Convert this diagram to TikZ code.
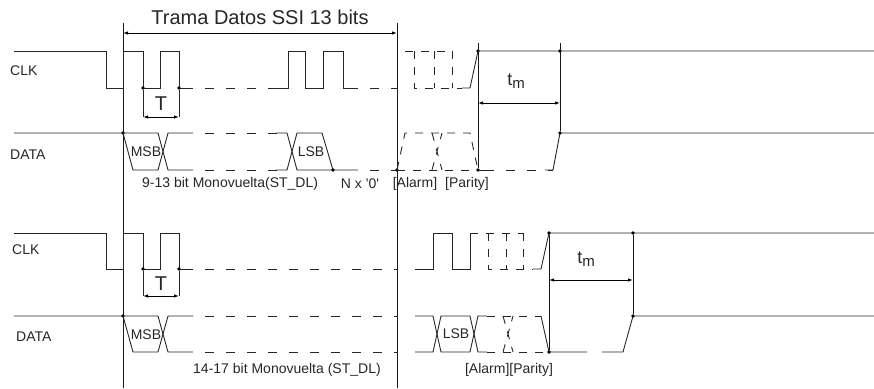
\documentclass[tikz,border=0pt]{standalone}
\usepackage{fontspec}
\setmainfont{Liberation Sans}
\usetikzlibrary{arrows.meta}
\begin{document}
\begin{tikzpicture}[x=1pt, y=-1pt,
   wave/.style={line width=0.9pt, line join=miter, draw=black!85},
   gapline/.style={wave, dash pattern=on 9pt off 12pt, dash phase=9pt},
   optbit/.style={wave, dash pattern=on 8pt off 8pt},
   frame/.style={line width=1pt, draw=black!90},
   dimline/.style={line width=0.9pt, {Latex[length=5pt,width=3.5pt]}-{Latex[length=5pt,width=3.5pt]}},
   dot/.style={circle, fill, inner sep=1.4pt},
   lbl/.style={font=\fontsize{14}{16}\selectfont, text=black!85, inner sep=0pt},
   big/.style={font=\fontsize{20}{24}\selectfont, text=black!85, inner sep=0pt}]

\useasboundingbox (0,0) rectangle (874,388);

% frame of the 13 bit word
\node[big] (title) at (260,17) {Trama Datos SSI 13 bits};
\draw[frame] (123,23) -- (123,388);
\draw[frame] (397,23) -- (397,388);
\coordinate (fa) at (123,33);
\coordinate (fb) at (397,33);
\draw[dimline] (fa) -- (fb);

% ---------- upper diagram ----------
\node[lbl, anchor=west] (clkA) at (10,71) {CLK};
\node[lbl, anchor=west] (dataA) at (10,155) {DATA};

% clock
\draw[wave] (14,51) -- (106,51) -- (106,88) -- (123,88) -- (123,51) -- (143,51) -- (143,88)
   -- (160,88) -- (160,51) -- (179,51) -- (179,88) -- (193,88);
\draw[gapline] (193,88) -- (282,88);
\draw[wave] (276,88) -- (288,88) -- (288,51) -- (305,51) -- (305,88) -- (323,88) -- (323,51)
   -- (343,51) -- (343,88) -- (358,88);
\draw[gapline] (358,88) -- (397,88);
\draw[optbit] (405,51) -- (452,51);
\draw[optbit] (414,51) -- (414,88) -- (462,88);
\draw[optbit] (434,51) -- (434,88);
\draw[optbit] (452,51) -- (452,88);
\draw[wave] (462,88) -- (470,88) -- (478,51) -- (874,51);

% period T
\node[dot] (ta1) at (143,88) {};
\node[dot] (ta2) at (179,88) {};
\coordinate (tA1) at (143,117);
\coordinate (tA2) at (179,117);
\draw[wave] (ta1) -- (tA1) (ta2) -- (tA2);
\draw[dimline] (tA1) -- (tA2);
\node[big] (TA) at (161,104) {T};

% data
\node[dot] (da0) at (123,133) {};
\draw[wave] (14,133) -- (123,133) -- (133,170) -- (158,170) -- (168,133) -- (193,133);
\draw[wave] (123,133) -- (158,133) -- (168,170) -- (193,170);
\draw[gapline] (193,133) -- (280,133);
\draw[gapline] (193,170) -- (280,170);
\draw[wave] (276,133) -- (287,133) -- (297,170) -- (358,170);
\draw[wave] (276,170) -- (287,170) -- (297,133) -- (322,133) -- (333,170);
\draw[gapline] (358,170) -- (397,170);
\node[dot] (da1) at (333,170) {};
\node[dot] (da2) at (397,170) {};
\draw[optbit] (397,170) -- (405,133) -- (470,133) -- (478,170);
\draw[optbit] (397,170) -- (478,170);
\draw[optbit] (432,133) -- (442,170) (432,170) -- (442,133);
\draw[wave] (478,170) -- (494,170);
\draw[gapline] (494,170) -- (553,170);
\draw[wave] (545,170) -- (553,170) -- (560,133) -- (874,133);
\node[lbl] (msbA) at (146,152) {MSB};
\node[lbl] (lsbA) at (311,152) {LSB};

% monoflop time
\node[dot] (ma1) at (478,51) {};
\node[dot] (ma2) at (478,170) {};
\node[dot] (ma3) at (560,51) {};
\node[dot] (ma4) at (560,133) {};
\draw[frame] (478,43) -- (ma2);
\draw[frame] (560,43) -- (ma4);
\coordinate (mA1) at (478,103);
\coordinate (mA2) at (560,103);
\draw[dimline] (mA1) -- (mA2);
\node[big, font=\fontsize{18}{20}\selectfont] (tmA) at (516,81) {t\raisebox{-0.35ex}{\fontsize{15}{15}\selectfont m}};

\node[lbl, anchor=west] (bitsA) at (142,184) {9-13 bit Monovuelta(ST\_DL)};
\node[lbl] (zeroA) at (360,184) {N x \textquotesingle0\textquotesingle};
\node[lbl] (alarmA) at (415,184) {[Alarm]};
\node[lbl] (parA) at (467,184) {[Parity]};

% ---------- lower diagram ----------
\node[lbl, anchor=west] (clkB) at (12,250) {CLK};
\node[lbl, anchor=west] (dataB) at (16,337) {DATA};

% clock
\draw[wave] (14,233) -- (106,233) -- (106,269) -- (123,269) -- (123,233) -- (143,233) -- (143,269)
   -- (160,269) -- (160,233) -- (179,233) -- (179,269) -- (193,269);
\draw[gapline] (193,269) -- (397,269);
\draw[wave] (415,269) -- (433,269) -- (433,233) -- (452,233) -- (452,269) -- (470,269) -- (470,233);
\draw[optbit] (470,233) -- (523,233);
\draw[optbit] (488,233) -- (488,269) -- (533,269);
\draw[optbit] (506,233) -- (506,269);
\draw[optbit] (523,233) -- (523,269);
\draw[wave] (533,269) -- (541,269) -- (549,233) -- (874,233);

% period T
\node[dot] (tb1) at (143,269) {};
\node[dot] (tb2) at (179,269) {};
\coordinate (tB1) at (143,296);
\coordinate (tB2) at (179,296);
\draw[wave] (tb1) -- (tB1) (tb2) -- (tB2);
\draw[dimline] (tB1) -- (tB2);
\node[big] (TB) at (161,284) {T};

% data
\node[dot] (db0) at (123,316) {};
\draw[wave] (14,316) -- (123,316) -- (133,352) -- (158,352) -- (168,316) -- (193,316);
\draw[wave] (123,316) -- (158,316) -- (168,352) -- (193,352);
\draw[gapline] (193,316) -- (397,316);
\draw[gapline] (193,352) -- (397,352);
\draw[wave] (415,316) -- (433,316) -- (441,352) -- (470,352) -- (478,316) -- (487,316);
\draw[wave] (415,352) -- (433,352) -- (441,316) -- (470,316) -- (478,352) -- (487,352);
\draw[optbit] (487,316) -- (541,316);
\draw[optbit] (487,352) -- (549,352);
\draw[optbit] (503,316) -- (513,352) (503,352) -- (513,316);
\draw[wave] (541,316) -- (549,352) -- (587,352);
\draw[wave] (602,352) -- (623,352) -- (633,316) -- (874,316);
\node[lbl] (msbB) at (146,335) {MSB};
\node[lbl] (lsbB) at (456,334) {LSB};

% monoflop time
\node[dot] (mb1) at (549,233) {};
\node[dot] (mb2) at (549,352) {};
\node[dot] (mb3) at (633,233) {};
\node[dot] (mb4) at (633,316) {};
\draw[frame] (mb1) -- (mb2);
\draw[frame] (mb3) -- (mb4);
\coordinate (mB1) at (549,280);
\coordinate (mB2) at (633,280);
\draw[dimline] (mB1) -- (mB2);
\node[big, font=\fontsize{18}{20}\selectfont] (tmB) at (586,259) {t\raisebox{-0.35ex}{\fontsize{15}{15}\selectfont m}};

\node[lbl, anchor=west] (bitsB) at (193,370) {14-17 bit Monovuelta (ST\_DL)};
\node[lbl] (alarmB) at (509,370) {[Alarm][Parity]};

\end{tikzpicture}
\end{document}
